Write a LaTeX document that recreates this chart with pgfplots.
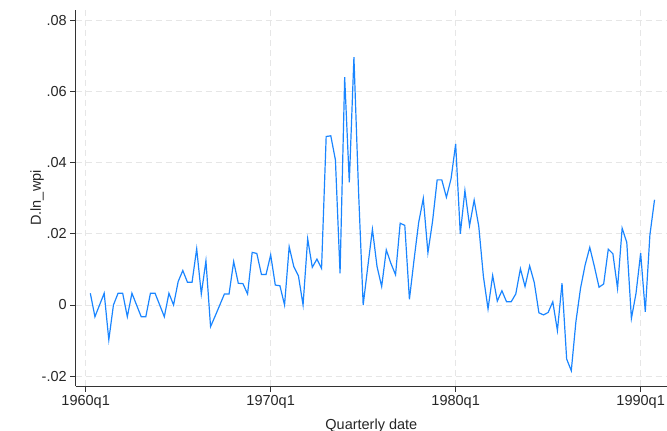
\documentclass[border=0pt]{standalone}
\usepackage{fontspec}
\setmainfont{Liberation Sans}
\usepackage{pgfplots}
\pgfplotsset{compat=1.18}
\definecolor{statablue}{RGB}{26,133,255}
\definecolor{gridgray}{RGB}{230,230,230}
\begin{document}
\begin{tikzpicture}[x=1bp,y=1bp]
\useasboundingbox (0,0) rectangle (667,430);
\begin{axis}[
  at={(75.7bp,44bp)}, anchor=south west,
  scale only axis, width=591.3bp, height=376bp,
  xmin=-2.16, xmax=125.7, ymin=-0.0228, ymax=0.083,
  axis x line*=bottom, axis y line*=left,
  axis line style={black!80, line width=0.8pt, -},
  tick align=outside,
  major tick length=5.5bp,
  tick style={black!80, line width=0.8pt},
  xtick={0,40,80,120},
  xticklabels={1960q1,1970q1,1980q1,1990q1},
  ytick={-0.02,0,0.02,0.04,0.06,0.08},
  yticklabels={-.02,0,.02,.04,.06,.08},
  grid=major,
  major grid style={gridgray, line width=0.8pt, dash pattern=on 6bp off 4bp},
  ticklabel style={font=\fontsize{14.5bp}{17bp}\selectfont, text=black!85},
  label style={font=\fontsize{14.5bp}{17bp}\selectfont, text=black!85},
  xlabel={Quarterly date},
  ylabel={D.ln\_wpi},
  xlabel style={at={(axis description cs:0.5,-0.1155)}, anchor=base},
  ylabel style={at={(axis description cs:-0.0654,0.5)}, anchor=center},
  clip=false,
]
\addplot[statablue, line width=1.2pt] table[x=t, y=d] {
t d
1 0.0033
2 -0.0033
3 0
4 0.0033
5 -0.0098
6 0
7 0.0033
8 0.0033
9 -0.0033
10 0.0033
11 0
12 -0.0033
13 -0.0033
14 0.0033
15 0.0033
16 0
17 -0.0033
18 0.0033
19 0
20 0.0066
21 0.0097
22 0.0064
23 0.0064
24 0.0158
25 0.0031
26 0.0124
27 -0.0061
28 -0.0031
29 0
30 0.0031
31 0.0031
32 0.0122
33 0.0061
34 0.0060
35 0.0031
36 0.0148
37 0.0145
38 0.0086
39 0.0086
40 0.0141
41 0.0056
42 0.0054
43 0
44 0.0164
45 0.0108
46 0.0082
47 0
48 0.0186
49 0.0106
50 0.0129
51 0.0103
52 0.0474
53 0.0476
54 0.0408
55 0.0089
56 0.0641
57 0.0345
58 0.0697
59 0.0320
60 0
61 0.0108
62 0.0213
63 0.0108
64 0.0052
65 0.0155
66 0.0117
67 0.0085
68 0.0230
69 0.0224
70 0.0016
71 0.0127
72 0.0232
73 0.0300
74 0.0147
75 0.0235
76 0.0352
77 0.0352
78 0.0303
79 0.0355
80 0.0453
81 0.0200
82 0.0322
83 0.0223
84 0.0295
85 0.0221
86 0.0080
87 -0.0011
88 0.0083
89 0.0011
90 0.0040
91 0.0009
92 0.0009
93 0.0031
94 0.0102
95 0.0052
96 0.0110
97 0.0063
98 -0.0022
99 -0.0028
100 -0.0021
101 0.0009
102 -0.0072
103 0.0061
104 -0.0152
105 -0.0185
106 -0.0047
107 0.0047
108 0.0113
109 0.0162
110 0.0108
111 0.0050
112 0.0059
113 0.0157
114 0.0144
115 0.0047
116 0.0216
117 0.0176
118 -0.0038
119 0.0033
120 0.0146
121 -0.0019
122 0.0197
123 0.0296
};
\end{axis}
\end{tikzpicture}
\end{document}
